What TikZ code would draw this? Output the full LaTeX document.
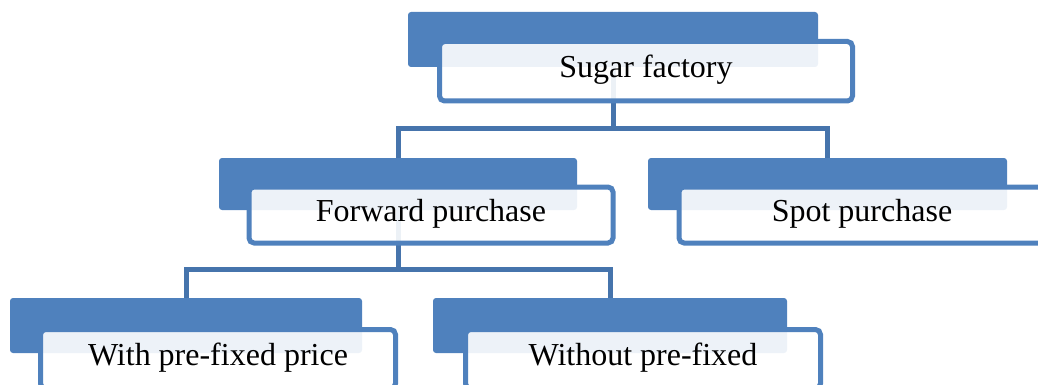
\documentclass[tikz,border=0pt]{standalone}
\usepackage{fontspec}
\setmainfont{Liberation Serif}
\definecolor{accent}{HTML}{4F81BD}
\definecolor{linkblue}{HTML}{4674AC}
\begin{document}
\begin{tikzpicture}[x=1pt,y=-1pt,
  backbox/.style={fill=accent, draw=none, rounded corners=3pt, inner sep=0pt},
  frontbox/.style={draw=accent, line width=5pt, fill=white, fill opacity=0.9,
    text opacity=1, rounded corners=5pt, inner sep=0pt,
    text height=20pt, text depth=7pt, font=\fontsize{32}{38}\selectfont},
  conn/.style={draw=linkblue, line width=5pt}]
\useasboundingbox (0,0) rectangle (1038,385);

% dark header blocks
\node[backbox, minimum width=410pt, minimum height=55pt] (sB) at (613,39.5) {};
\node[backbox, minimum width=358pt, minimum height=52pt] (fB) at (398,184) {};
\node[backbox, minimum width=359pt, minimum height=52pt] (pB) at (827.5,184) {};
\node[backbox, minimum width=352pt, minimum height=55pt] (wB) at (186,325.5) {};
\node[backbox, minimum width=354pt, minimum height=55pt] (nB) at (610,325.5) {};

% tree connectors
\path (sB.south) ++(0,61) coordinate (j1);
\draw[conn] (sB.south) -- (j1);
\draw[conn] (fB.north) |- (j1) -| (pB.north);
\path (fB.south) ++(0,59) coordinate (j2);
\draw[conn] (fB.south) -- (j2);
\draw[conn] (wB.north) |- (j2) -| (nB.north);

% labelled front boxes
\node[frontbox, minimum width=413pt, minimum height=59.5pt] (sW) at (646,71.25) {Sugar factory};
\node[frontbox, minimum width=364pt, minimum height=56pt] (fW) at (431,215) {Forward purchase};
\node[frontbox, minimum width=366pt, minimum height=56pt] (pW) at (862,215) {Spot purchase};
\node[frontbox, minimum width=355pt, minimum height=59pt] (wW) at (218,359) {With pre-fixed price};
\node[frontbox, minimum width=355pt, minimum height=59pt] (nW) at (643,359) {Without pre-fixed};
\end{tikzpicture}
\end{document}
